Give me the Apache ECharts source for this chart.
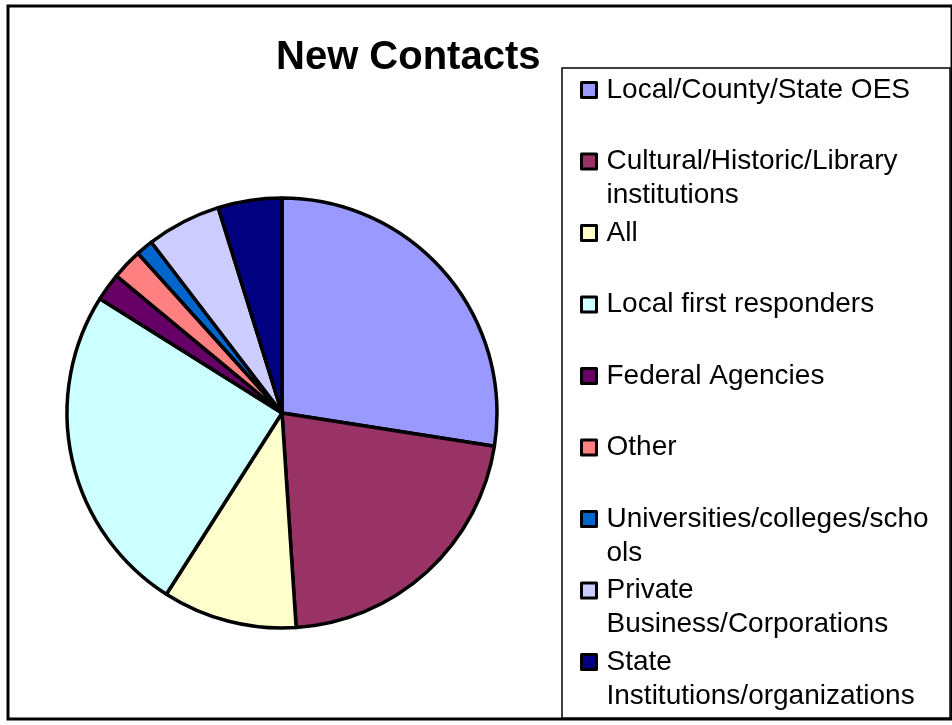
<!DOCTYPE html>
<html>
<head>
<meta charset="utf-8">
<script src="https://cdn.jsdelivr.net/npm/echarts@6/dist/echarts.min.js"></script>
<style>
html,body{margin:0;padding:0;background:#fff;}
#chart{width:952px;height:725px;}
</style>
</head>
<body>
<div id="chart"></div>
<script>
const titleText = "New Contacts";
const categories = [
  "Local/County/State OES",
  "Cultural/Historic/Library institutions",
  "All",
  "Local first responders",
  "Federal Agencies",
  "Other",
  "Universities/colleges/schools",
  "Private Business/Corporations",
  "State Institutions/organizations"
];
const values = [27.5, 21.5, 10.1, 24.9, 2.1, 2.3, 1.3, 5.6, 4.8];
const legendLines = [
  ["Local/County/State OES"],
  ["Cultural/Historic/Library", "institutions"],
  ["All"],
  ["Local first responders"],
  ["Federal Agencies"],
  ["Other"],
  ["Universities/colleges/scho", "ols"],
  ["Private", "Business/Corporations"],
  ["State", "Institutions/organizations"]
];
const colors = ["#9999FF", "#993366", "#FFFFCC", "#CCFFFF", "#660066", "#FF8080", "#0066CC", "#CCCCFF", "#000080"];

const FONT = "'Liberation Sans', Arial, sans-serif";
const lineH = 34;
const firstCenter = 90;
const pitch = 71.5;

const legends = categories.map((name, i) => {
  const lines = legendLines[i];
  const txt = "\n" + lines[0] + "\n" + (lines[1] || "");
  return {
    data: [name],
    orient: 'vertical',
    left: 580,
    top: firstCenter + i * pitch - 1.5 * lineH,
    padding: 0,
    icon: 'rect',
    itemWidth: 15,
    itemHeight: 15,
    itemStyle: { borderColor: '#000', borderWidth: 3 },
    selectedMode: false,
    formatter: () => txt,
    textStyle: { fontFamily: FONT, fontSize: 28, color: '#000', lineHeight: lineH, padding: [0, 0, 0, 5] }
  };
});

const chart = echarts.init(document.getElementById('chart'), null, { renderer: 'canvas' });
chart.setOption({
  animation: false,
  backgroundColor: '#fff',
  color: colors,
  title: {
    text: titleText,
    left: 276,
    top: 38,
    padding: 0,
    textStyle: { fontFamily: FONT, fontSize: 40, fontWeight: 'bold', color: '#000' }
  },
  legend: legends,
  graphic: [
    { type: 'rect', z: -1, shape: { x: 8, y: 6, width: 944, height: 713 }, style: { fill: 'none', stroke: '#000', lineWidth: 3 } },
    { type: 'rect', z: -1, shape: { x: 562, y: 68, width: 388, height: 650 }, style: { fill: '#fff', stroke: '#000', lineWidth: 1.5 } }
  ],
  series: [{
    type: 'pie',
    center: [282, 413],
    radius: 215,
    startAngle: 90,
    clockwise: true,
    label: { show: false },
    labelLine: { show: false },
    emphasis: { disabled: true },
    itemStyle: { borderColor: '#000', borderWidth: 3.5 },
    data: categories.map((c, i) => ({ name: c, value: values[i] }))
  }]
});
</script>
</body>
</html>
